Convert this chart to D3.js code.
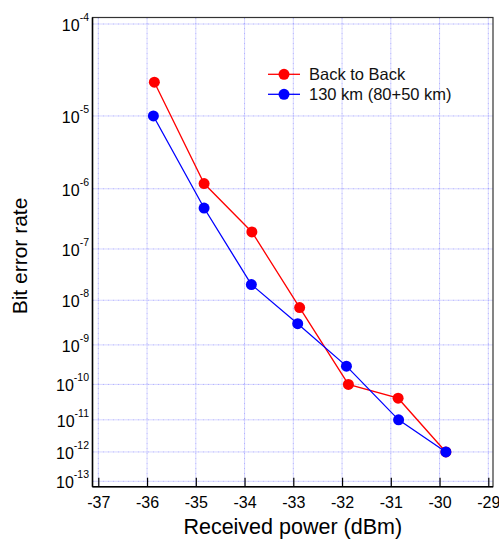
<!DOCTYPE html>
<html>
<head>
<meta charset="utf-8">
<script src="https://cdn.jsdelivr.net/npm/d3@7"></script>
<style>
  body { margin: 0; background: #fff; }
  svg { font-family: Arial, "Liberation Sans", sans-serif; }
</style>
</head>
<body>
<div id="chart"></div>
<script>
'use strict';

// received power (dBm)
var powerB2B = [-35.85, -34.83, -33.85, -32.87, -31.87, -30.85, -29.87];
var berB2B   = [2.5e-5, 1.2e-6, 2.0e-7, 7.0e-9, 1.0e-10, 4.2e-11, 1.0e-12];
var power130 = [-35.87, -34.83, -33.86, -32.91, -31.91, -30.84, -29.87];
var ber130   = [1.0e-5, 5.0e-7, 2.1e-8, 3.1e-9, 3.0e-10, 1.0e-11, 1.0e-12];

var seriesNames = ["Back to Back", "130 km (80+50 km)"];
var xTicks = [-37, -36, -35, -34, -33, -32, -31, -30, -29];
var yExponents = [-4, -5, -6, -7, -8, -9, -10, -11, -12, -13];

var svgWidth = 499, svgHeight = 542;
var frame = { left: 92.5, right: 493, top: 17.5, bottom: 486.7 };

// complementary error function (Numerical Recipes erfcc)
function erfc(x) {
  var z = Math.abs(x), t = 1 / (1 + 0.5 * z);
  var r = t * Math.exp(-z * z - 1.26551223 + t * (1.00002368 + t * (0.37409196 + t * (0.09678418 +
    t * (-0.18628806 + t * (0.27886807 + t * (-1.13520398 + t * (1.48851587 +
    t * (-0.82215223 + t * 0.17087277)))))))));
  return x >= 0 ? r : 2 - r;
}

// Q factor for a given bit error rate
function qOf(ber) {
  var lo = 0, hi = 20;
  for (var i = 0; i < 80; i++) {
    var mid = (lo + hi) / 2;
    if (0.5 * erfc(mid / Math.SQRT2) > ber) lo = mid; else hi = mid;
  }
  return (lo + hi) / 2;
}

var x = d3.scaleLinear().domain([-37, -29]).range([98.3, 488.3]);
// BER axis drawn on a log(Q) scale
var y = d3.scaleLog().domain([qOf(1e-4), qOf(1e-13)]).range([24, 481.3]);
function yPos(ber) { return y(qOf(ber)); }

var svg = d3.select("#chart").append("svg")
  .attr("width", svgWidth)
  .attr("height", svgHeight);

// grid
var grid = svg.append("g")
  .attr("stroke", "#7a7aff")
  .attr("stroke-width", 1)
  .attr("stroke-opacity", 0.6)
  .attr("stroke-dasharray", "2,1,1,1");

grid.selectAll("line.h")
  .data(yExponents)
  .enter().append("line")
  .attr("class", "h")
  .attr("x1", frame.left).attr("x2", frame.right)
  .attr("y1", function(d) { return yPos(Math.pow(10, d)); })
  .attr("y2", function(d) { return yPos(Math.pow(10, d)); });

grid.selectAll("line.v")
  .data(xTicks)
  .enter().append("line")
  .attr("class", "v")
  .attr("y1", frame.top).attr("y2", frame.bottom)
  .attr("x1", function(d) { return x(d); })
  .attr("x2", function(d) { return x(d); });

// frame
svg.append("rect")
  .attr("x", frame.left).attr("y", frame.top)
  .attr("width", frame.right - frame.left)
  .attr("height", frame.bottom - frame.top)
  .attr("fill", "none")
  .attr("stroke", "#333")
  .attr("stroke-width", 1.2);

// x axis with inward ticks
var xAxisG = svg.append("g")
  .attr("transform", "translate(0," + frame.bottom + ")")
  .call(d3.axisBottom(x)
    .tickValues(xTicks)
    .tickFormat(function(d) { return String(d); })
    .tickSizeInner(-9).tickSizeOuter(0).tickPadding(10));
xAxisG.select(".domain").remove();
xAxisG.selectAll(".tick line").attr("stroke", "#000").attr("stroke-width", 1.2);
xAxisG.selectAll(".tick text")
  .attr("font-size", 16)
  .attr("font-family", "Arial, 'Liberation Sans', sans-serif")
  .attr("fill", "#000");

// y axis: labels as 10 with superscript exponent
var yAxisG = svg.append("g");
yExponents.forEach(function(e) {
  var yy = yPos(Math.pow(10, e));
  var t = yAxisG.append("text")
    .attr("x", 89)
    .attr("y", yy + 7)
    .attr("text-anchor", "end")
    .attr("font-size", 16)
    .attr("fill", "#000");
  t.append("tspan").text("10");
  t.append("tspan")
    .attr("dy", -10)
    .attr("font-size", 10.5)
    .text(String(e));
});

// left and bottom axis lines
svg.append("line")
  .attr("x1", frame.left).attr("x2", frame.left)
  .attr("y1", frame.top).attr("y2", frame.bottom)
  .attr("stroke", "#000").attr("stroke-width", 1.5);
svg.append("line")
  .attr("x1", frame.left).attr("x2", frame.right)
  .attr("y1", frame.bottom).attr("y2", frame.bottom)
  .attr("stroke", "#000").attr("stroke-width", 1.5);

// axis titles
svg.append("text")
  .attr("x", (frame.left + frame.right) / 2)
  .attr("y", 534)
  .attr("text-anchor", "middle")
  .attr("font-size", 21.5)
  .text("Received power (dBm)");

svg.append("text")
  .attr("transform", "rotate(-90)")
  .attr("x", -256)
  .attr("y", 27)
  .attr("text-anchor", "middle")
  .attr("font-size", 21)
  .text("Bit error rate");

// series
var series = [
  { name: seriesNames[0], xs: powerB2B, ys: berB2B, color: "#ff0000" },
  { name: seriesNames[1], xs: power130, ys: ber130, color: "#0000ff" }
];

var line = d3.line()
  .x(function(d) { return x(d[0]); })
  .y(function(d) { return yPos(d[1]); });

series.forEach(function(s) {
  var pts = d3.zip(s.xs, s.ys);
  svg.append("path")
    .datum(pts)
    .attr("fill", "none")
    .attr("stroke", s.color)
    .attr("stroke-width", 1.3)
    .attr("d", line);
  svg.selectAll(null)
    .data(pts)
    .enter().append("circle")
    .attr("cx", function(d) { return x(d[0]); })
    .attr("cy", function(d) { return yPos(d[1]); })
    .attr("r", 5.5)
    .attr("fill", s.color);
});

// legend
var legend = svg.append("g");
series.forEach(function(s, i) {
  var ly = 74.3 + i * 20;
  legend.append("line")
    .attr("x1", 268).attr("x2", 300)
    .attr("y1", ly).attr("y2", ly)
    .attr("stroke", s.color).attr("stroke-width", 1.3);
  legend.append("circle")
    .attr("cx", 284).attr("cy", ly).attr("r", 5.5)
    .attr("fill", s.color);
  legend.append("text")
    .attr("x", 309).attr("y", ly + 5.5)
    .attr("font-size", 16.5)
    .attr("fill", "#111")
    .text(s.name);
});
</script>
</body>
</html>
